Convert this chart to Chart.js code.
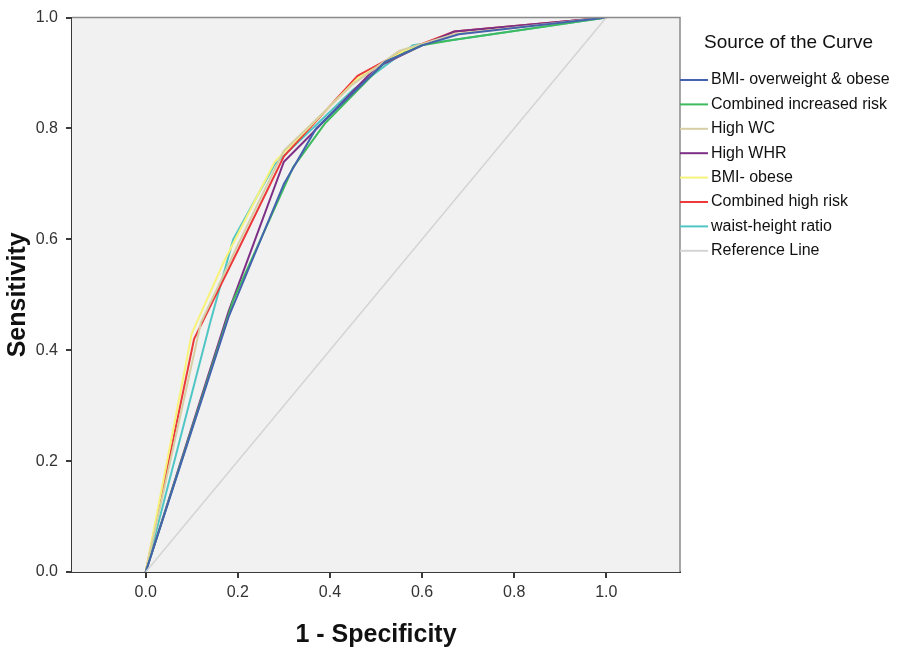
<!DOCTYPE html>
<html>
<head>
<meta charset="utf-8">
<script src="https://cdn.jsdelivr.net/npm/chart.js@4.4.0/dist/chart.umd.min.js"></script>
<style>
  html, body { margin: 0; padding: 0; background: #ffffff; }
  #wrap { width: 899px; height: 659px; }
</style>
</head>
<body>
<div id="wrap"><canvas id="roc" width="899" height="659"></canvas></div>
<script>
// Curvas ROC
const seriesNames = ['BMI- overweight & obese', 'Combined increased risk', 'High WC', 'High WHR',
                     'BMI- obese', 'Combined high risk', 'waist-height ratio', 'Reference Line'];
const seriesColors = ['#4462ad', '#3dbb5d', '#d6cfa4', '#7d2f86', '#f7f27a', '#ec3a3a', '#4fc6c4', '#d4d4d4'];

const bmiOwFpr   = [0, 0.18, 0.30, 0.37, 0.52, 0.60, 0.68, 1];
const bmiOwTpr   = [0, 0.46, 0.70, 0.80, 0.92, 0.95, 0.97, 1];
const combIncFpr = [0, 0.19, 0.32, 0.39, 0.52, 0.60, 0.67, 1];
const combIncTpr = [0, 0.49, 0.73, 0.81, 0.92, 0.95, 0.96, 1];
const highWcFpr  = [0, 0.12, 0.20, 0.30, 0.45, 0.55, 0.67, 1];
const highWcTpr  = [0, 0.45, 0.59, 0.76, 0.88, 0.94, 0.97, 1];
const highWhrFpr = [0, 0.18, 0.30, 0.36, 0.50, 0.60, 0.67, 1];
const highWhrTpr = [0, 0.47, 0.74, 0.79, 0.91, 0.95, 0.975, 1];
const bmiObFpr   = [0, 0.10, 0.17, 0.28, 0.46, 0.56, 0.67, 1];
const bmiObTpr   = [0, 0.43, 0.56, 0.74, 0.89, 0.94, 0.97, 1];
const combHiFpr  = [0, 0.105, 0.20, 0.30, 0.46, 0.56, 0.67, 1];
const combHiTpr  = [0, 0.42, 0.58, 0.75, 0.895, 0.94, 0.975, 1];
const whtrFpr    = [0, 0.14, 0.19, 0.28, 0.45, 0.58, 0.67, 1];
const whtrTpr    = [0, 0.45, 0.60, 0.735, 0.87, 0.95, 0.96, 1];
const refFpr     = [0, 1];
const refTpr     = [0, 1];

const tickValues = [0, 0.2, 0.4, 0.6, 0.8, 1.0];

const allFpr = [bmiOwFpr, combIncFpr, highWcFpr, highWhrFpr, bmiObFpr, combHiFpr, whtrFpr, refFpr];
const allTpr = [bmiOwTpr, combIncTpr, highWcTpr, highWhrTpr, bmiObTpr, combHiTpr, whtrTpr, refTpr];

function toPoints(xs, ys) {
    return xs.map((x, i) => ({ x: x, y: ys[i] }));
}

// linha de referência primeiro, para ficar por baixo
const order = [7, 0, 1, 2, 3, 4, 5, 6];
const datasets = order.map(i => ({
    label: seriesNames[i],
    data: toPoints(allFpr[i], allTpr[i]),
    borderColor: seriesColors[i],
    borderWidth: i === 7 ? 1.5 : 2,
    pointRadius: 0,
    tension: 0,
    fill: false
}));

// fundo cinza e moldura da área do gráfico
const plotFrame = {
    id: 'plotFrame',
    beforeDatasetsDraw(chart) {
        const a = chart.chartArea, ctx = chart.ctx;
        ctx.save();
        ctx.fillStyle = '#f1f1f1';
        ctx.fillRect(a.left, a.top, a.right - a.left, a.bottom - a.top);
        ctx.restore();
    },
    afterDatasetsDraw(chart) {
        const a = chart.chartArea, ctx = chart.ctx;
        ctx.save();
        ctx.strokeStyle = '#8a8a8a';
        ctx.lineWidth = 1.5;
        ctx.beginPath();
        ctx.moveTo(a.left, a.top);
        ctx.lineTo(a.right, a.top);
        ctx.lineTo(a.right, a.bottom);
        ctx.stroke();
        ctx.restore();
    }
};

// legenda desenhada à direita, estilo SPSS
const sideLegend = {
    id: 'sideLegend',
    afterDraw(chart) {
        const a = chart.chartArea, ctx = chart.ctx;
        ctx.save();
        ctx.fillStyle = '#111';
        ctx.textBaseline = 'middle';
        ctx.font = '19px "Liberation Sans", Arial, sans-serif';
        ctx.fillText('Source of the Curve', a.right + 24, 43);
        ctx.font = '16px "Liberation Sans", Arial, sans-serif';
        seriesNames.forEach((name, i) => {
            const y = 80 + i * 24.4;
            ctx.strokeStyle = seriesColors[i];
            ctx.lineWidth = 2;
            ctx.beginPath();
            ctx.moveTo(a.right, y);
            ctx.lineTo(a.right + 28, y);
            ctx.stroke();
            ctx.fillText(name, a.right + 31, y);
        });
        ctx.restore();
    }
};

new Chart(document.getElementById('roc').getContext('2d'), {
    type: 'line',
    data: { datasets: datasets },
    options: {
        responsive: false,
        animation: false,
        layout: { padding: { top: 16, right: 219, left: 0, bottom: 0 } },
        plugins: {
            legend: { display: false },
            tooltip: { enabled: false }
        },
        scales: {
            x: {
                type: 'linear',
                min: -0.16,
                max: 1.16,
                afterBuildTicks(scale) { scale.ticks = tickValues.map(v => ({ value: v })); },
                afterFit(scale) { scale.height = 87; },
                border: { display: true, color: '#3a3a3a', width: 2 },
                grid: { drawOnChartArea: false, drawTicks: true, tickLength: 6, color: '#3a3a3a', lineWidth: 2 },
                ticks: {
                    color: '#333',
                    padding: 5,
                    font: { family: '"Liberation Sans", Arial, sans-serif', size: 16 },
                    callback: v => v.toFixed(1)
                },
                title: {
                    display: true,
                    text: '1 - Specificity',
                    color: '#111',
                    font: { family: '"Liberation Sans", Arial, sans-serif', size: 25, weight: 'bold' },
                    padding: { top: 0, bottom: 9 }
                }
            },
            y: {
                type: 'linear',
                min: 0,
                max: 1,
                afterBuildTicks(scale) { scale.ticks = tickValues.map(v => ({ value: v })); },
                afterFit(scale) { scale.width = 72; },
                border: { display: true, color: '#3a3a3a', width: 2 },
                grid: { drawOnChartArea: false, drawTicks: true, tickLength: 6, color: '#3a3a3a', lineWidth: 2 },
                ticks: {
                    color: '#333',
                    padding: 8,
                    font: { family: '"Liberation Sans", Arial, sans-serif', size: 16 },
                    callback: v => v.toFixed(1)
                },
                title: {
                    display: true,
                    text: 'Sensitivity',
                    color: '#111',
                    font: { family: '"Liberation Sans", Arial, sans-serif', size: 25, weight: 'bold' },
                    padding: { top: 3, bottom: 0 }
                }
            }
        }
    },
    plugins: [plotFrame, sideLegend]
});
</script>
</body>
</html>
